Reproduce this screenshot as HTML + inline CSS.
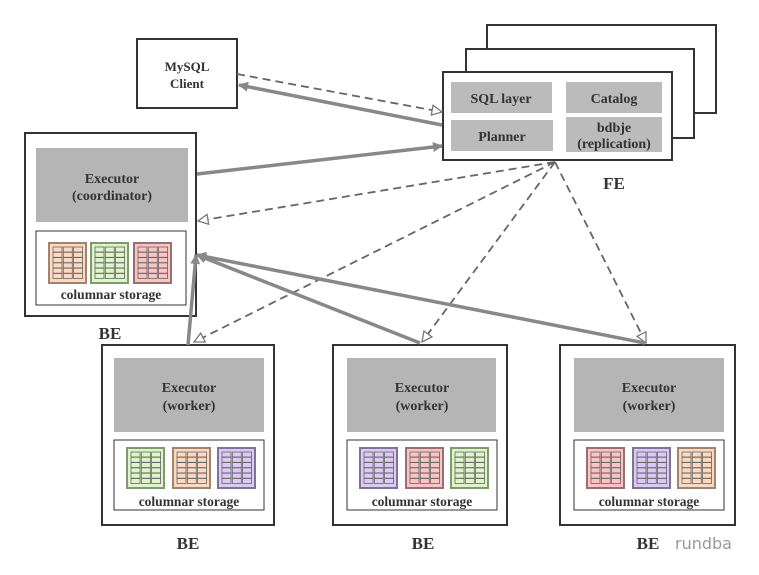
<!DOCTYPE html>
<html><head><meta charset="utf-8"><style>
html,body{margin:0;padding:0;background:#fff}
svg{display:block}
text{font-family:"Liberation Serif",serif;font-weight:bold;fill:#333}
</style></head><body>
<svg width="759" height="575" viewBox="0 0 759 575" xmlns="http://www.w3.org/2000/svg">
<defs>
<marker id="sa" markerWidth="10" markerHeight="10" refX="9" refY="5" orient="auto" markerUnits="userSpaceOnUse" viewBox="0 0 10 10"><path d="M0,0 L10,5 L0,10 z" fill="#888"/></marker>
<marker id="oa" markerWidth="12" markerHeight="12" refX="11" refY="6" orient="auto" markerUnits="userSpaceOnUse" viewBox="0 0 12 12"><path d="M1,1 L11,6 L1,11 z" fill="#fff" stroke="#777" stroke-width="1.3"/></marker>
</defs>

<!-- MySQL client -->
<rect x="137" y="39" width="100" height="69" fill="#fff" stroke="#333" stroke-width="2"/>
<text x="187" y="71" font-size="13" text-anchor="middle">MySQL</text>
<text x="187" y="88" font-size="13" text-anchor="middle">Client</text>

<!-- FE stack -->
<rect x="487" y="25" width="229" height="88" fill="#fff" stroke="#333" stroke-width="2"/>
<rect x="466" y="49" width="228" height="89" fill="#fff" stroke="#333" stroke-width="2"/>
<rect x="443" y="72" width="229" height="88" fill="#fff" stroke="#333" stroke-width="2"/>
<rect x="451" y="82" width="101" height="31" fill="#bbb"/>
<rect x="566" y="82" width="96" height="31" fill="#bbb"/>
<rect x="451" y="120" width="102" height="31" fill="#bbb"/>
<rect x="566" y="117" width="96" height="35" fill="#bbb"/>
<text x="501" y="103" font-size="14" text-anchor="middle">SQL layer</text>
<text x="614" y="103" font-size="14" text-anchor="middle">Catalog</text>
<text x="502" y="141" font-size="14" text-anchor="middle">Planner</text>
<text x="614" y="132" font-size="14" text-anchor="middle">bdbje</text>
<text x="614" y="148" font-size="14" text-anchor="middle">(replication)</text>
<text x="614" y="189" font-size="17" text-anchor="middle">FE</text>

<!-- Coordinator BE -->
<rect x="25" y="133" width="171" height="183" fill="#fff" stroke="#333" stroke-width="2"/>
<rect x="36" y="148" width="152" height="74" fill="#b5b5b5"/>
<text x="112" y="183" font-size="14" text-anchor="middle">Executor</text>
<text x="112" y="200" font-size="14" text-anchor="middle">(coordinator)</text>
<rect x="36" y="231" width="150" height="74" fill="#fff" stroke="#333" stroke-width="1"/>
<text x="111" y="299" font-size="13.5" text-anchor="middle">columnar storage</text>
<text x="110" y="339" font-size="17" text-anchor="middle">BE</text>

<!-- Workers -->
<rect x="102" y="345" width="172" height="180" fill="#fff" stroke="#333" stroke-width="2"/>
<rect x="114" y="358" width="150" height="74" fill="#b5b5b5"/>
<text x="189" y="392" font-size="14" text-anchor="middle">Executor</text>
<text x="189" y="410" font-size="14" text-anchor="middle">(worker)</text>
<rect x="114" y="440" width="150" height="70" fill="#fff" stroke="#333" stroke-width="1"/>
<text x="189" y="506" font-size="13.5" text-anchor="middle">columnar storage</text>
<text x="188" y="549" font-size="17" text-anchor="middle">BE</text>

<rect x="333" y="345" width="174" height="180" fill="#fff" stroke="#333" stroke-width="2"/>
<rect x="347" y="358" width="149" height="74" fill="#b5b5b5"/>
<text x="422" y="392" font-size="14" text-anchor="middle">Executor</text>
<text x="422" y="410" font-size="14" text-anchor="middle">(worker)</text>
<rect x="347" y="440" width="150" height="70" fill="#fff" stroke="#333" stroke-width="1"/>
<text x="422" y="506" font-size="13.5" text-anchor="middle">columnar storage</text>
<text x="423" y="549" font-size="17" text-anchor="middle">BE</text>

<rect x="560" y="345" width="175" height="180" fill="#fff" stroke="#333" stroke-width="2"/>
<rect x="574" y="358" width="150" height="74" fill="#b5b5b5"/>
<text x="649" y="392" font-size="14" text-anchor="middle">Executor</text>
<text x="649" y="410" font-size="14" text-anchor="middle">(worker)</text>
<rect x="574" y="440" width="150" height="70" fill="#fff" stroke="#333" stroke-width="1"/>
<text x="649" y="506" font-size="13.5" text-anchor="middle">columnar storage</text>
<text x="648" y="549" font-size="17" text-anchor="middle">BE</text>
<text x="675" y="549" font-size="16" style="font-family:'DejaVu Sans',sans-serif;font-weight:normal;fill:#999">rundba</text>

<!-- tables -->
<g id="tables" stroke="#888" stroke-width="1">
</g>
<script>
(function(){
var g=document.getElementById('tables');
var C={o:['#fcd9c0','#a08470'],g:['#ddf5c8','#7f9a6e'],r:['#fbc4c4','#9a6f6f'],p:['#dccaf5','#7f7396']};
var T=[[49,243,'o'],[91,243,'g'],[134,243,'r'],
[127,448,'g'],[173,448,'o'],[218,448,'p'],
[360,448,'p'],[406,448,'r'],[451,448,'g'],
[587,448,'r'],[633,448,'p'],[678,448,'o']];
var ns='http://www.w3.org/2000/svg';
function el(n,a){var e=document.createElementNS(ns,n);for(var k in a)e.setAttribute(k,a[k]);g.appendChild(e);}
T.forEach(function(t){var x=t[0],y=t[1],c=C[t[2]];
el('rect',{x:x,y:y,width:37,height:40,fill:c[0],stroke:c[1],'stroke-width':2});
for(var i=0;i<3;i++){var cx=x+4+i*10.3;
for(var j=0;j<6;j++){el('rect',{x:cx,y:y+4+j*5.3,width:9,height:5,fill:'none',stroke:'#666','stroke-width':0.8});}}
});
})();
</script>

<!-- connectors -->
<g fill="none">
<line x1="237" y1="74" x2="442" y2="112" stroke="#666" stroke-width="1.8" stroke-dasharray="8,5" marker-end="url(#oa)"/>
<line x1="442" y1="125" x2="239" y2="85" stroke="#888" stroke-width="3.5" marker-end="url(#sa)"/>
<line x1="197" y1="174" x2="442" y2="146" stroke="#888" stroke-width="3.5" marker-end="url(#sa)"/>
<line x1="555" y1="162" x2="198" y2="221" stroke="#666" stroke-width="1.8" stroke-dasharray="8,5" marker-end="url(#oa)"/>
<line x1="555" y1="162" x2="194" y2="342" stroke="#666" stroke-width="1.8" stroke-dasharray="8,5" marker-end="url(#oa)"/>
<line x1="555" y1="162" x2="422" y2="342" stroke="#666" stroke-width="1.8" stroke-dasharray="8,5" marker-end="url(#oa)"/>
<line x1="555" y1="162" x2="646" y2="343" stroke="#666" stroke-width="1.8" stroke-dasharray="8,5" marker-end="url(#oa)"/>
<line x1="188" y1="345" x2="196" y2="255" stroke="#888" stroke-width="3.5" marker-end="url(#sa)"/>
<line x1="420" y1="343" x2="197" y2="255" stroke="#888" stroke-width="3.5" marker-end="url(#sa)"/>
<line x1="645" y1="343" x2="197" y2="255" stroke="#888" stroke-width="3.5" marker-end="url(#sa)"/>
</g>
</svg>
</body></html>
